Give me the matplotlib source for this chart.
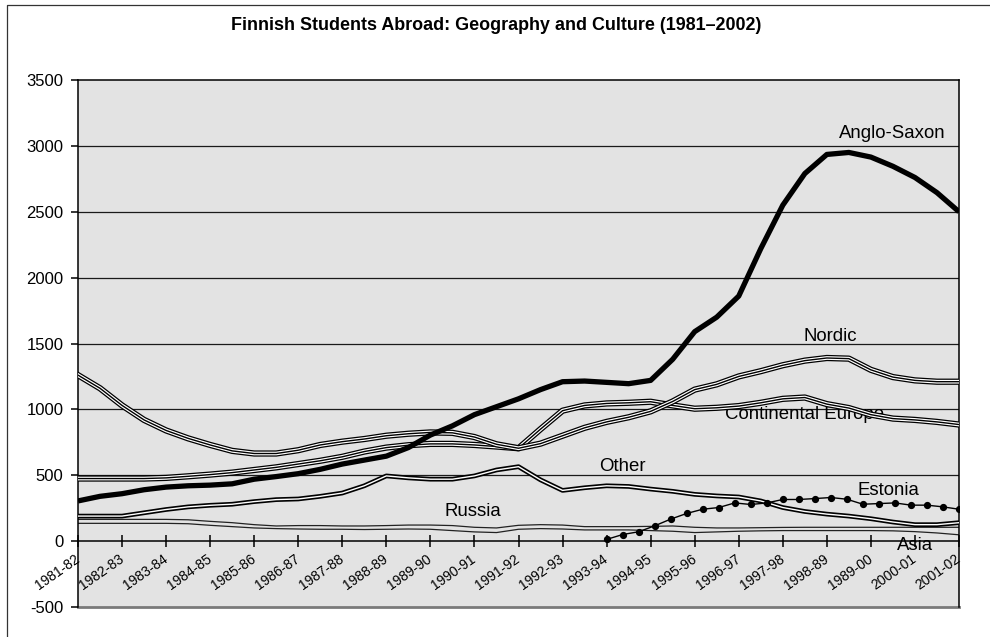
import numpy as np
import matplotlib
matplotlib.use("Agg")
import matplotlib.pyplot as plt
import matplotlib.patheffects as pe
from matplotlib.lines import Line2D
from matplotlib import font_manager

# ---- data -------------------------------------------------------------
season_labels = ["1981-82", "1982-83", "1983-84", "1984-85", "1985-86", "1986-87",
                 "1987-88", "1988-89", "1989-90", "1990-91", "1991-92", "1992-93",
                 "1993-94", "1994-95", "1995-96", "1996-97", "1997-98", "1998-89",
                 "1989-00", "2000-01", "2001-02"]

# series are sampled every half season
half_steps = np.arange(41) / 2.0

anglo_saxon = [305, 340, 360, 390, 410, 420, 425, 435, 470, 490,
               512, 545, 585, 615, 645, 710, 805, 875, 960, 1020,
               1080, 1150, 1210, 1215, 1205, 1195, 1220, 1380, 1590, 1700,
               1860, 2220, 2550, 2790, 2935, 2950, 2915, 2845, 2760, 2645,
               2500]

nordic = [1260, 1160, 1030, 920, 840, 780, 730, 685, 665, 665,
          690, 730, 755, 775, 800, 815, 825, 822, 790, 735,
          705, 740, 800, 860, 905, 940, 985, 1060, 1150, 1190,
          1250, 1290, 1335, 1370, 1390, 1385, 1300, 1245, 1220, 1210,
          1210]

continental = [475, 475, 475, 475, 480, 492, 505, 520, 540, 560,
               585, 610, 640, 680, 710, 728, 738, 738, 730, 718,
               705, 850, 990, 1030, 1045, 1050, 1058, 1030, 1005, 1012,
               1025, 1050, 1080, 1090, 1040, 1010, 960, 930, 920, 905,
               885]

other = [190, 190, 190, 215, 240, 260, 272, 280, 300, 315,
         320, 340, 365, 420, 495, 480, 470, 470, 495, 540,
         565, 465, 385, 405, 420, 415, 395, 378, 355, 343,
         335, 305, 255, 225, 205, 190, 170, 145, 125, 125,
         140]

russia = [165, 165, 165, 165, 165, 162, 150, 140, 125, 115,
          118, 118, 115, 115, 118, 122, 122, 118, 105, 100,
          120, 125, 122, 110, 110, 110, 112, 115, 105, 100,
          100, 102, 104, 105, 105, 105, 105, 105, 105, 105,
          105]

asia = [135, 135, 135, 135, 135, 132, 120, 110, 100, 95,
        92, 90, 90, 88, 90, 92, 90, 80, 70, 65,
        90, 95, 92, 85, 85, 85, 80, 75, 65, 70,
        75, 78, 80, 80, 80, 80, 80, 78, 72, 62,
        48]

# Estonia is reported from 1993-94 onwards on a finer step
estonia_steps = np.linspace(12, 20, 23)
estonia = [13, 50, 71, 116, 167, 210, 242, 255, 290, 278,
           290, 316, 316, 323, 331, 318, 280, 285, 290, 273,
           273, 260, 242]

# ---- fonts ------------------------------------------------------------
available = {f.name for f in font_manager.fontManager.ttflist}
base_font = "Liberation Sans" if "Liberation Sans" in available else "DejaVu Sans"
plt.rcParams["font.family"] = [base_font, "DejaVu Sans"]
plt.rcParams["axes.unicode_minus"] = False

# ---- figure -----------------------------------------------------------
W, H = 990, 637
fig = plt.figure(figsize=(W / 100, H / 100), dpi=100)
fig.patch.set_facecolor("white")

ax = fig.add_axes([78 / W, (H - 607) / H, (959 - 78) / W, (607 - 80) / H])
ax.set_facecolor("#e3e3e3")
ax.set_xlim(0, 20)
ax.set_ylim(-500, 3500)

# horizontal grid
for yv in range(500, 3001, 500):
    ax.axhline(yv, color="#1a1a1a", lw=0.9, zorder=1)

# spines
for side in ("left", "top", "right"):
    ax.spines[side].set_color("black")
    ax.spines[side].set_linewidth(1.1)
ax.spines["bottom"].set_position(("data", 0))
ax.spines["bottom"].set_color("black")
ax.spines["bottom"].set_linewidth(1.1)
ax.axhline(-500, color="#7a7a7a", lw=2.0, clip_on=False, zorder=0.5)

# ticks
ax.set_yticks(np.arange(-500, 3501, 500))
ax.tick_params(axis="y", direction="out", length=5, width=1.1, pad=5.5,
               labelsize=12, colors="black")
ax.set_xticks(range(len(season_labels)))
ax.set_xticklabels(season_labels, rotation=35, ha="right", va="center",
                   rotation_mode="anchor", fontsize=10)
ax.tick_params(axis="x", direction="inout", length=9, width=1.1, pad=7.5)

# ---- series -----------------------------------------------------------
triple = [pe.Stroke(linewidth=4.5, foreground="black"),
          pe.Stroke(linewidth=2.7, foreground="white"),
          pe.Normal()]
double = [pe.Stroke(linewidth=3.4, foreground="black"), pe.Normal()]

ax.plot(half_steps, asia, color="#222222", lw=0.9, zorder=2)
ax.plot(half_steps, russia, color="#222222", lw=0.9, zorder=2)
ax.plot(half_steps, other, color="white", lw=1.0, path_effects=double,
        solid_joinstyle="round", zorder=3)
ax.plot(half_steps, continental, color="black", lw=1.0, path_effects=triple,
        solid_joinstyle="round", zorder=4)
ax.plot(half_steps, nordic, color="black", lw=1.0, path_effects=triple,
        solid_joinstyle="round", zorder=4)
ax.plot(estonia_steps, estonia, color="black", lw=1.0, marker="o", ms=4.2,
        zorder=5)
ax.plot(half_steps, anglo_saxon, color="black", lw=3.8,
        solid_joinstyle="round", solid_capstyle="butt", zorder=6)

# series names
label_kw = dict(fontsize=13.4, ha="center", va="center", zorder=3.5)
ax.text(18.48, 3092, "Anglo-Saxon", **label_kw)
ax.text(17.07, 1554, "Nordic", **label_kw)
ax.text(16.50, 963, "Continental Europe", **label_kw)
ax.text(12.35, 568, "Other", **label_kw)
ax.text(8.97, 227, "Russia", **label_kw)
ax.text(18.39, 387, "Estonia", **label_kw)
ax.text(19.00, -30, "Asia", **label_kw)

# title
fig.text(496 / W, (H - 26) / H,
         "Finnish Students Abroad: Geography and Culture (1981\u20132002)",
         ha="center", va="center", fontsize=12.9, fontweight="bold")

# outer frame
fig.add_artist(Line2D([6.5 / W, 6.5 / W, 1.0], [0.0, (H - 4.5) / H, (H - 4.5) / H],
                      transform=fig.transFigure, color="#333333", lw=0.9))

fig.savefig("out.png", dpi=100)
